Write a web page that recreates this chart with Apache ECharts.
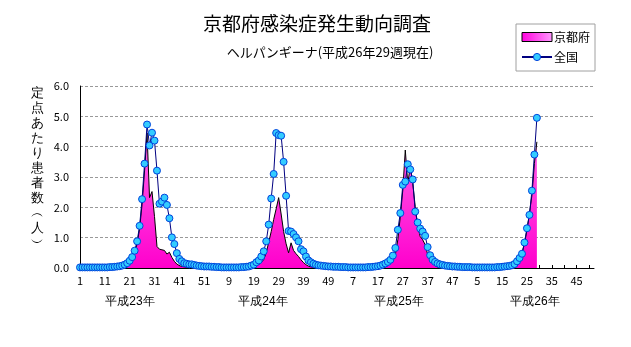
<!DOCTYPE html>
<html><head><meta charset="utf-8">
<script src="https://cdn.jsdelivr.net/npm/echarts@6/dist/echarts.min.js"></script>
<style>html,body{margin:0;padding:0;background:#fff}#c{width:631px;height:347px}</style>
</head><body><div id="c"></div>
<script>
// ---- data ----
const weeksPerYear = [52, 52, 52, 52];
const yearLabels = ['平成23年', '平成24年', '平成25年', '平成26年'];
const seriesNames = ['京都府', '全国'];

const national2011 = [0.02,0.02,0.02,0.02,0.02,0.02,0.02,0.02,0.02,0.02,0.02,0.02,0.03,0.03,
  0.04,0.05,0.06,0.08,0.11,0.16,0.24,0.36,0.57,0.88,1.39,2.27,3.44,4.73,4.04,4.46,4.20,3.21,2.12,2.19,2.32,2.08,1.64,1.01,0.79,0.49,0.30,0.22,0.16,0.14,0.12,0.12,0.10,0.08,0.07,0.06,0.05,0.05];
const national2012 = [0.05,0.04,0.04,0.03,0.03,0.02,0.02,0.02,0.02,0.02,0.02,0.02,0.02,0.03,0.03,
  0.04,0.05,0.08,0.11,0.19,0.25,0.38,0.55,0.88,1.43,2.29,3.10,4.45,4.38,4.36,3.50,2.38,1.22,1.20,1.12,1.01,0.88,0.62,0.55,0.38,0.25,0.19,0.14,0.11,0.09,0.08,0.07,0.06,0.05,0.05,0.04,0.04];
const national2013 = [0.04,0.03,0.03,0.03,0.02,0.02,0.02,0.02,0.02,0.02,0.02,0.02,0.03,
  0.03,0.04,0.05,0.06,0.08,0.11,0.15,0.20,0.27,0.41,0.66,1.26,1.81,2.74,2.85,3.42,3.25,2.92,1.86,1.50,1.30,1.20,1.06,0.69,0.42,0.27,0.20,0.15,0.12,0.10,0.08,0.07,0.06,0.05,0.05,0.04,0.04,0.03,0.03];
const national2014 = [0.03,0.03,0.02,0.02,0.02,0.02,0.02,0.02,0.02,0.02,0.02,0.02,0.03,0.03,0.04,
  0.05,0.06,0.07,0.09,0.13,0.22,0.33,0.47,0.84,1.31,1.75,2.55,3.74,4.95];

const kyoto2011 = [0.01,0.01,0,0,0,0,0,0,0,0,0,0,0,0.01,0.01,0.02,0.03,
  0.05,0.07,0.12,0.20,0.33,0.50,0.80,1.30,2.10,3.20,4.45,2.32,2.52,1.70,0.71,0.62,0.60,0.58,0.46,0.52,0.35,0.22,0.13,0.08,0.05,0.04,0.03,0.02,0.02,0.01,0.01,0.01,0,0,0];
const kyoto2012 = [0,0,0,0,0,0,0,0,0,0,0,0,0,0,0.01,0.01,
  0.02,0.04,0.06,0.10,0.12,0.18,0.28,0.50,0.85,1.20,1.60,1.95,2.32,1.78,1.20,0.80,0.50,0.83,0.58,0.47,0.38,0.27,0.18,0.11,0.06,0.04,0.03,0.02,0.02,0.01,0.01,0,0,0,0,0];
const kyoto2013 = [0,0,0,0,0,0,0,0,0,0,0,0,0,0,0.01,0.01,
  0.02,0.03,0.05,0.07,0.10,0.15,0.25,0.44,0.93,1.70,2.57,3.89,2.79,3.34,2.79,2.03,1.37,1.04,0.93,0.77,0.45,0.25,0.14,0.07,0.04,0.03,0.02,0.02,0.01,0.01,0,0,0,0,0,0];
const kyoto2014 = [0,0,0,0,0,0,0,0,0,0,0,0,0,0.01,
  0.01,0.02,0.04,0.06,0.09,0.14,0.22,0.32,0.50,0.80,1.25,1.80,2.40,3.45,4.16];

// ---- build ----
const categories = [];
weeksPerYear.forEach(n => { for (let w = 1; w <= n; w++) categories.push(String(w)); });
const pad = (arr, n) => arr.concat(Array(n - arr.length).fill(null));
const national = [].concat(national2011, national2012, national2013, pad(national2014, weeksPerYear[3]));
const kyoto = [].concat(kyoto2011, kyoto2012, kyoto2013, pad(kyoto2014, weeksPerYear[3]));

const FONT = '"Noto Sans CJK JP", "Noto Sans", sans-serif';
const chart = echarts.init(document.getElementById('c'), null, {renderer: 'canvas'});
const yearX = [130, 263, 399, 535];

chart.setOption({
  animation: false,
  backgroundColor: '#fff',
  textStyle: {fontFamily: FONT},
  title: [
    {text: '京都府感染症発生動向調査', left: 312, top: 9, textAlign: 'center',
     textStyle: {fontSize: 19, fontWeight: 'normal', color: '#000', fontFamily: FONT}},
    {text: 'ヘルパンギーナ(平成26年29週現在)', left: 325, top: 41, textAlign: 'center',
     textStyle: {fontSize: 13, fontWeight: 'normal', color: '#000', fontFamily: FONT}}
  ],
  legend: {
    orient: 'vertical', left: 516, top: 24,
    borderColor: '#a0a0a0', borderWidth: 1, padding: [7, 5, 8, 5],
    itemGap: 8, itemWidth: 30, itemHeight: 9,
    textStyle: {fontSize: 12, color: '#000', fontFamily: FONT, padding: [0, 0, 0, -3]},
    data: [
      {name: seriesNames[0], icon: 'rect',
       itemStyle: {color: new echarts.graphic.LinearGradient(0,0,1,0,[{offset:0,color:'#ff00dd'},{offset:1,color:'#ff99ff'}]), borderColor: '#000', borderWidth: 1}},
      {name: seriesNames[1], itemStyle: {color: '#33ccff', borderColor: '#0044dd', borderWidth: 1}}
    ]
  },
  grid: {left: 80, right: 37, top: 86, bottom: 79},
  xAxis: {
    type: 'category', data: categories, boundaryGap: false,
    axisLine: {lineStyle: {color: '#000', width: 1}},
    axisTick: {show: true, inside: true, length: 3, interval: 4, lineStyle: {color: '#000'}},
    axisLabel: {interval: 9, fontSize: 11, color: '#000', margin: 7, fontFamily: FONT},
    splitLine: {show: false}
  },
  yAxis: {
    type: 'value', min: 0, max: 6, interval: 1,
    axisLine: {show: true, lineStyle: {color: '#000', width: 1}},
    axisTick: {show: false},
    axisLabel: {formatter: v => v.toFixed(1), fontSize: 11, color: '#000', margin: 11, fontFamily: FONT},
    splitLine: {show: true, lineStyle: {color: '#999', type: [3, 2], width: 1}}
  },
  graphic: [
    {type: 'text', left: 31, top: 86, style: {text: '定\n点\nあ\nた\nり\n患\n者\n数\n︵\n人\n︶', fontSize: 13, lineHeight: 15, fill: '#000', font: '13px ' + FONT}},
  ].concat(yearLabels.map((t, k) => ({
    type: 'text', x: yearX[k], y: 296,
    style: {text: t, fontSize: 12, fill: '#000', textAlign: 'center', font: '12px ' + FONT}
  }))),
  series: [
    {
      name: seriesNames[0], type: 'line', data: kyoto, showSymbol: false, symbol: 'none',
      lineStyle: {color: '#000', width: 1},
      itemStyle: {color: '#ff33cc'},
      areaStyle: {opacity: 1, color: new echarts.graphic.LinearGradient(0,0,0,1,[{offset:0,color:'#ff66ee'},{offset:1,color:'#ff00cc'}])},
      z: 2
    },
    {
      name: seriesNames[1], type: 'line', data: national, symbol: 'circle', symbolSize: 7,
      showSymbol: true, showAllSymbol: true,
      lineStyle: {color: '#000080', width: 1},
      itemStyle: {color: '#33ccff', borderColor: '#0044dd', borderWidth: 1},
      z: 3
    }
  ]
});
</script>
</body></html>
